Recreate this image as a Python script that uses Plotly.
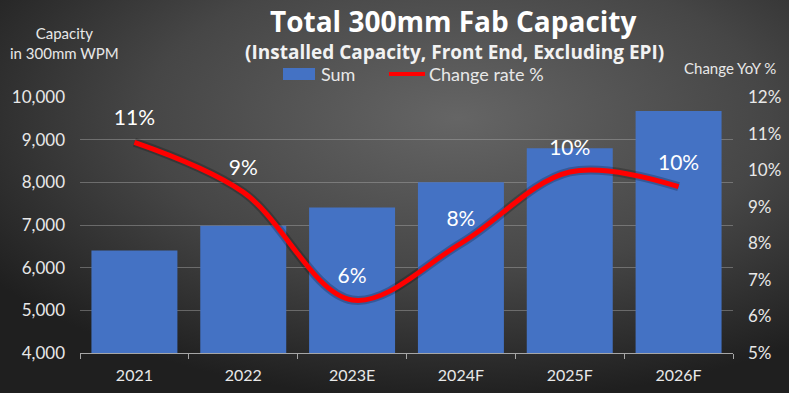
import base64
import plotly.graph_objects as go

categories = ["2021", "2022", "2023E", "2024F", "2025F", "2026F"]
capacity_sum = [6400, 6980, 7410, 8000, 8800, 9670]
change_rate = [10.76, 9.4, 6.45, 8.0, 9.95, 9.55]
change_labels = ["11%", "9%", "6%", "8%", "10%", "10%"]

W, H = 789, 393
ML, MR, MT, MB = 80, 56, 97, 40
PW, PH = W - ML - MR, H - MT - MB

FONT = "Lato"
TXT = "#E8E8E8"
BAR = "#4472C4"
LINE = "#FF0000"


def px(x):
    return (x - ML) / PW


def py(y):
    return 1 - (y - MT) / PH


svg = f"""<svg xmlns='http://www.w3.org/2000/svg' width='{W}' height='{H}' viewBox='0 0 {W} {H}' preserveAspectRatio='none'>
<defs><radialGradient id='g' cx='58%' cy='30%' r='72%'>
<stop offset='0%' stop-color='#656565'/><stop offset='55%' stop-color='#464646'/><stop offset='100%' stop-color='#1f1f1f'/>
</radialGradient></defs><rect width='{W}' height='{H}' fill='url(#g)'/></svg>"""
bg_uri = "data:image/svg+xml;base64," + base64.b64encode(svg.encode()).decode()

fig = go.Figure()
fig.add_trace(go.Bar(
    x=categories, y=capacity_sum, name="Sum",
    marker=dict(color=BAR, line=dict(width=0)),
))
fig.add_trace(go.Scatter(
    x=categories, y=change_rate, yaxis="y2", mode="lines",
    line=dict(color="rgba(0,0,0,0.22)", width=9, shape="spline", smoothing=1.0),
    showlegend=False, hoverinfo="skip",
))
fig.add_trace(go.Scatter(
    x=categories, y=change_rate, yaxis="y2", name="Change rate %",
    mode="lines+markers+text", text=change_labels, textposition="top center",
    textfont=dict(family=FONT, size=21, color="#FFFFFF"),
    marker=dict(size=17, color="rgba(0,0,0,0)"),
    line=dict(color=LINE, width=5, shape="spline", smoothing=1.0),
))

shapes = [
    dict(type="rect", xref="paper", yref="paper", x0=px(283), x1=px(315), y0=py(80), y1=py(68),
         fillcolor=BAR, line=dict(width=0)),
    dict(type="line", xref="paper", yref="paper", x0=px(389), x1=px(425), y0=py(74), y1=py(74),
         line=dict(color=LINE, width=4)),
]

annotations = [
    dict(text="<b>Total 300mm Fab Capacity</b>", x=px(453), y=py(21),
         font=dict(family="Open Sans", size=28, color="#FFFFFF")),
    dict(text="<b>(Installed Capacity, Front End, Excluding EPI)</b>", x=px(454), y=py(52),
         font=dict(family="Open Sans", size=19, color="#F2F2F2")),
    dict(text="Capacity<br>in 300mm WPM", x=px(64), y=py(43), align="center",
         font=dict(family=FONT, size=15, color=TXT)),
    dict(text="Change YoY %", x=px(730), y=py(68),
         font=dict(family=FONT, size=15, color=TXT)),
    dict(text="Sum", x=px(319), y=py(74), xanchor="left",
         font=dict(family=FONT, size=18, color=TXT)),
    dict(text="Change rate %", x=px(427), y=py(74), xanchor="left",
         font=dict(family=FONT, size=18, color=TXT)),
]
for a in annotations:
    a.setdefault("xref", "paper")
    a.setdefault("yref", "paper")
    a.setdefault("xanchor", "center")
    a.setdefault("yanchor", "middle")
    a["showarrow"] = False

fig.update_layout(
    width=W, height=H,
    margin=dict(l=ML, r=MR, t=MT, b=MB, autoexpand=False),
    paper_bgcolor="#3a3a3a",
    plot_bgcolor="rgba(0,0,0,0)",
    bargap=0.21,
    font=dict(family=FONT, color=TXT),
    showlegend=False,
    hovermode=False,
    xaxis=dict(
        type="category", automargin=False, tickfont=dict(family=FONT, size=16, color=TXT),
        showline=True, linecolor="#A6A6A6", linewidth=1,
        ticks="outside", tickson="boundaries", ticklen=5, tickcolor="#A6A6A6",
        showgrid=False, ticklabelstandoff=8,
    ),
    yaxis=dict(
        range=[4000, 10000], dtick=1000, tickformat=",d", automargin=False,
        tickfont=dict(family=FONT, size=17, color=TXT),
        showgrid=True, gridcolor="rgba(170,170,170,0.45)", gridwidth=1,
        zeroline=False, showline=False, ticks="", ticklabelstandoff=14,
    ),
    yaxis2=dict(
        overlaying="y", side="right", range=[5, 12], dtick=1, ticksuffix="%", automargin=False,
        tickfont=dict(family=FONT, size=17, color=TXT),
        showgrid=False, zeroline=False, showline=False, ticklabelstandoff=14,
    ),
    images=[dict(
        source=bg_uri, xref="paper", yref="paper",
        x=-ML / PW, y=1 + MT / PH, sizex=W / PW, sizey=H / PH,
        xanchor="left", yanchor="top", sizing="stretch", layer="below",
    )],
    shapes=shapes,
    annotations=annotations,
)

fig.write_html("out.html", config={"displayModeBar": False},
               post_script="document.body.style.margin='0';")
